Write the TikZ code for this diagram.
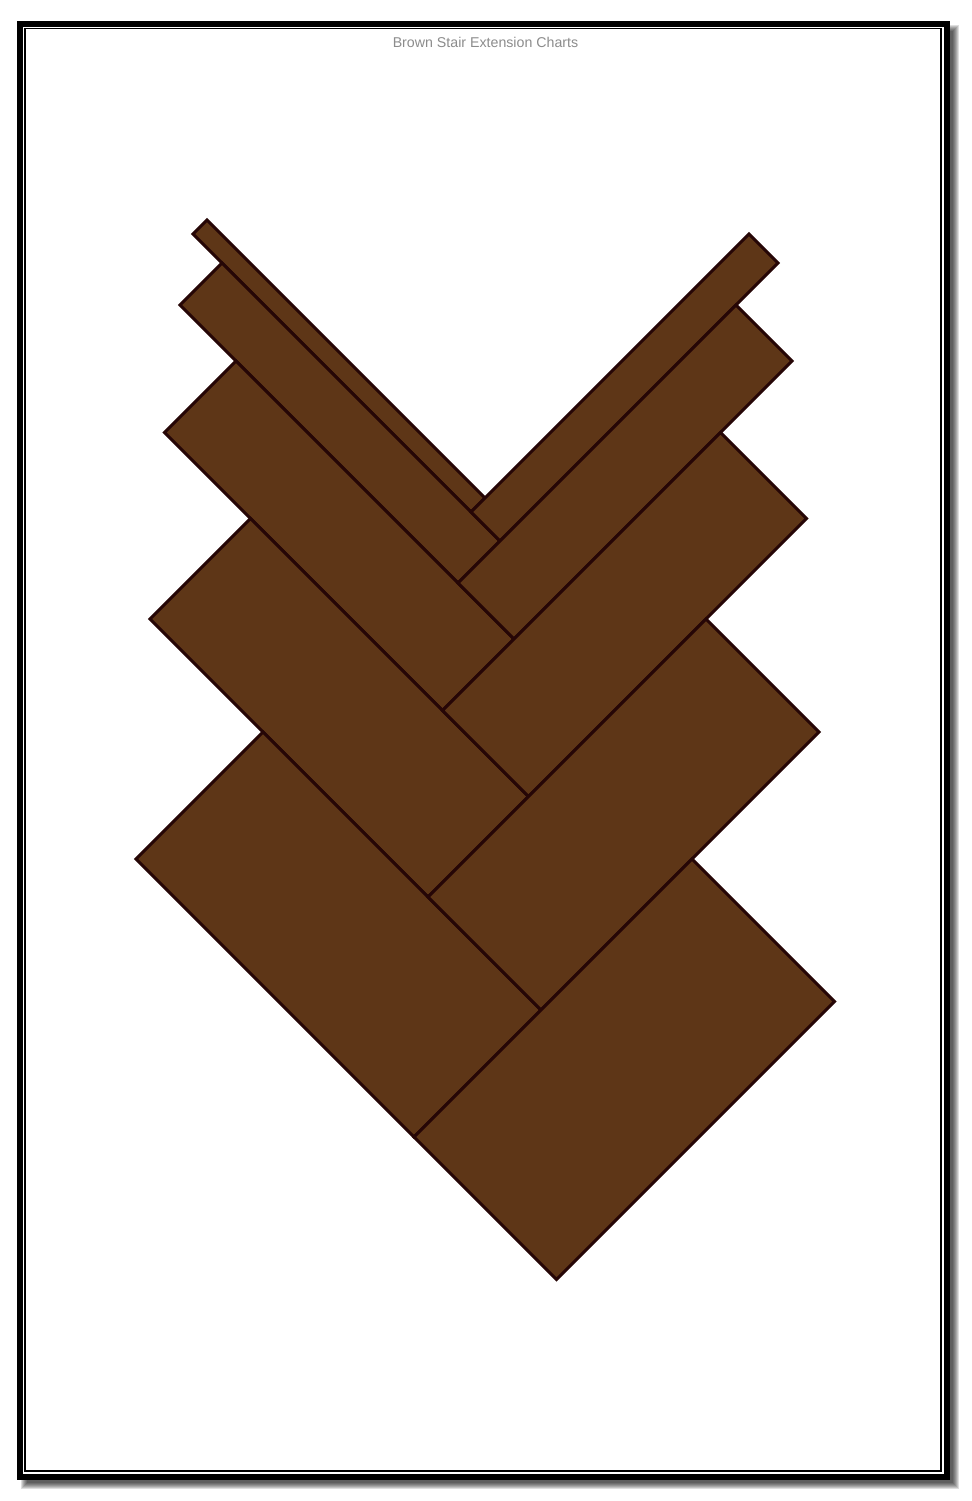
\documentclass[tikz,border=0pt]{standalone}
\usepackage{fontspec}
\newfontfamily\titlefont{Liberation Sans}
\definecolor{woodfill}{RGB}{94,54,23}
\definecolor{woodline}{RGB}{38,6,6}
\definecolor{titlegray}{RGB}{140,140,140}
\tikzset{
  x=0.5pt, y=-0.5pt,
  woodstrip/.style={fill=woodfill, draw=woodline, line width=1.5pt, line join=miter},
  outerframe/.style={draw=black, fill=white, line width=3pt},
  innerframe/.style={draw=black, line width=0.75pt},
}
% strip in diagonal coordinates: p = x - y, q = x + y
\newcommand{\hbstrip}[4]{%
  \draw[woodstrip] ({(#1+#3)/2},{(#3-#1)/2}) -- ({(#2+#3)/2},{(#3-#2)/2})
    -- ({(#2+#4)/2},{(#4-#2)/2}) -- ({(#1+#4)/2},{(#4-#1)/2}) -- cycle;}
\begin{document}
\begin{tikzpicture}
\useasboundingbox[fill=white] (0,0) rectangle (971,1501);
% shadow
\foreach \e in {0,1,...,6}{
  \fill[black, opacity=0.13] ({27-\e},{31-\e}) rectangle ({953+\e},{1483+\e});
}
% frame
\draw[outerframe] (20,24) rectangle (946.5,1476.5);
\draw[innerframe] (25,28.7) rectangle (941,1471);
\node[font=\titlefont\fontsize{7.1}{8.5}\selectfont, text=titlegray, anchor=base, inner sep=0pt] (title) at (485.5,47.5) {Brown Stair Extension Charts};
% left-leaning strips L1..L5
\hbstrip{-41}{-13}{427}{983}
\hbstrip{-125}{-41}{485}{1041}
\hbstrip{-268}{-125}{597}{1153}
\hbstrip{-469}{-268}{769}{1325}
\hbstrip{-723}{-469}{995}{1551}
% right-leaning strips R1..R5
\hbstrip{-41}{515}{983}{1041}
\hbstrip{-125}{431}{1041}{1153}
\hbstrip{-268}{288}{1153}{1325}
\hbstrip{-469}{87}{1325}{1551}
\hbstrip{-723}{-167}{1551}{1836}
\end{tikzpicture}
\end{document}
